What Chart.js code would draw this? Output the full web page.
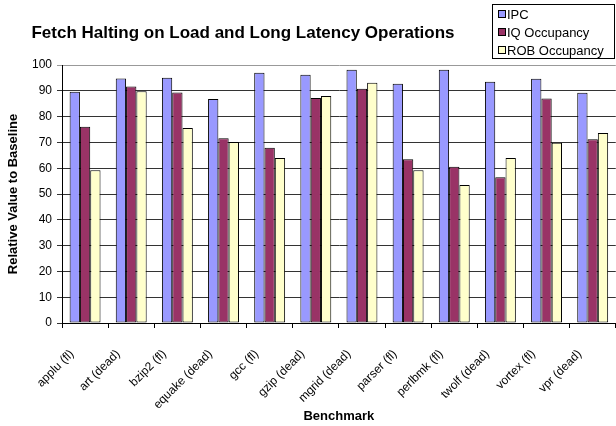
<!DOCTYPE html>
<html><head><meta charset="utf-8">
<script src="https://cdn.jsdelivr.net/npm/chart.js@4/dist/chart.umd.min.js"></script>
<style>
html,body{margin:0;padding:0;background:#fff;overflow:hidden;width:616px;height:426px}
#wrap{position:absolute;left:0;top:0;width:622px;height:426px}
</style>
</head><body><div id="wrap"><canvas id="c" width="622" height="426"></canvas></div>
<script>
const categories = ["applu (fl)", "art (dead)", "bzip2 (fl)", "equake (dead)", "gcc (fl)", "gzip (dead)", "mgrid (dead)", "parser (fl)", "perlbmk (fl)", "twolf (dead)", "vortex (fl)", "vpr (dead)"];
const ipc          = [89.6, 94.8, 95.1, 86.8, 97.0, 96.2, 98.2, 92.7, 98.2, 93.5, 94.7, 89.2];
const iqOccupancy  = [76.1, 91.7, 89.3, 71.6, 67.9, 87.2, 90.8, 63.5, 60.6, 56.5, 87.0, 71.2];
const robOccupancy = [59.2, 89.8, 75.6, 70.2, 64.0, 88.0, 93.1, 59.2, 53.5, 64.0, 69.9, 73.6];
const seriesNames = ["IPC", "IQ Occupancy", "ROB Occupancy"];
const yTickValues = [0, 10, 20, 30, 40, 50, 60, 70, 80, 90, 100];
const chartTitle = "Fetch Halting on Load and Long Latency Operations";
const xTitle = "Benchmark";
const yTitle = "Relative Value to Baseline";

const FONT = "'Liberation Sans', Arial, sans-serif";

const overlay = {
  id: 'overlay',
  afterDraw(chart) {
    const ctx = chart.ctx;
    ctx.save();
    ctx.fillStyle = '#000';
    ctx.font = "bold 17px " + FONT;
    ctx.textAlign = 'center';
    ctx.textBaseline = 'middle';
    ctx.fillText(chartTitle, 243, 33);
    // legend box
    ctx.strokeStyle = '#000';
    ctx.lineWidth = 1;
    ctx.strokeRect(492.5, 4.5, 122, 54);
    ctx.font = "13px " + FONT;
    ctx.textAlign = 'left';
    chart.data.datasets.forEach((ds, i) => {
      const cy = 14 + i * 18;
      ctx.fillStyle = ds.backgroundColor;
      ctx.fillRect(498.5, cy - 3.5, 7, 7);
      ctx.strokeStyle = '#000';
      ctx.strokeRect(498.5, cy - 3.5, 7, 7);
      ctx.fillStyle = '#000';
      ctx.fillText(ds.label, 507, cy + 1);
    });
    ctx.restore();
  }
};

new Chart(document.getElementById('c'), {
  type: 'bar',
  data: {
    labels: categories,
    datasets: [
      { label: seriesNames[0], data: ipc, backgroundColor: '#9999FF' },
      { label: seriesNames[1], data: iqOccupancy, backgroundColor: '#993366' },
      { label: seriesNames[2], data: robOccupancy, backgroundColor: '#FFFFCC' }
    ].map(d => Object.assign(d, { borderColor: '#000', borderWidth: 1, borderSkipped: false, categoryPercentage: 0.67, barPercentage: 1.0 }))
  },
  options: {
    responsive: false,
    animation: false,
    layout: { padding: { left: 0, right: 3, top: 65, bottom: 0 } },
    plugins: { legend: { display: false }, title: { display: false }, tooltip: { enabled: false } },
    scales: {
      x: {
        grid: { offset: true, drawOnChartArea: false, drawTicks: true, tickLength: 5, color: '#000' },
        border: { color: '#000', width: 1 },
        ticks: { color: '#000', font: { family: FONT, size: 12 }, maxRotation: 45, minRotation: 45, autoSkip: false, padding: 19, labelOffset: -13 },
        title: { display: true, text: xTitle, color: '#000', font: { family: FONT, size: 13, weight: 'bold' }, padding: { top: 0, bottom: 2 } },
        afterFit(s) { s.height = 103; }
      },
      y: {
        min: 0, max: 100,
        afterBuildTicks(s) { s.ticks = yTickValues.map(v => ({ value: v })); },
        grid: { color: (c) => c.tick && c.tick.value === 100 ? '#999' : '#333', tickLength: 5, drawTicks: true },
        border: { color: '#000', width: 1 },
        ticks: { color: '#000', font: { family: FONT, size: 12 }, padding: 5 },
        title: { display: true, text: yTitle, color: '#000', font: { family: FONT, size: 13, weight: 'bold' }, padding: { top: 6, bottom: 0 } },
        afterFit(s) { s.width = 62; }
      }
    }
  },
  plugins: [overlay]
});
</script>
</body></html>
